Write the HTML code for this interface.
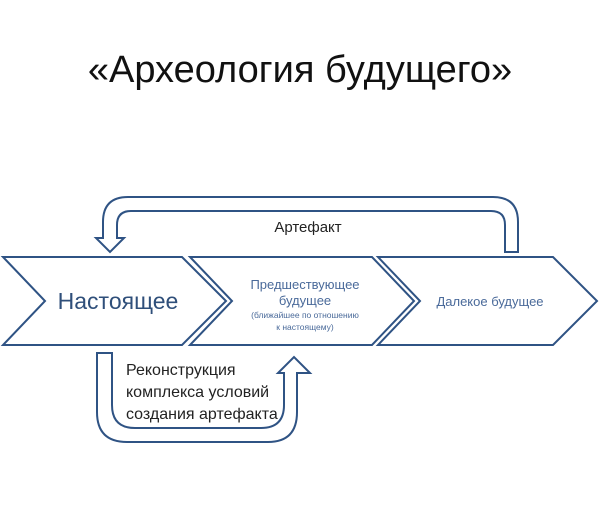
<!DOCTYPE html>
<html><head><meta charset="utf-8"><style>
body{margin:0;background:#fff;width:600px;height:516px;overflow:hidden}
</style></head><body>
<svg width="600" height="516" xmlns="http://www.w3.org/2000/svg" font-family="Liberation Sans, DejaVu Sans, sans-serif">
<text x="300" y="82" text-anchor="middle" font-size="38" fill="#111">«Археология будущего»</text>
<g fill="#fff" stroke="#2f5384" stroke-width="2" stroke-linejoin="miter">
<path d="M518,252 L518,222 Q518,197 493,197 L128,197 Q103,197 103,222 L103,238 L96,238 L110,252 L124,238 L117,238 L117,225 Q117,211 131,211 L491,211 Q505,211 505,225 L505,252 Z"/>
<path d="M97,353 L97,412 Q97,442 127,442 L268,442 Q297,442 297,412 L297,373 L310,373 L294,357 L278,373 L284,373 L284,405 Q284,428 261,428 L135,428 Q112,428 112,405 L112,353 Z"/>
<path d="M3,257 L182,257 L226,301 L182,345 L3,345 L45,301 Z"/>
<path d="M190,257 L372,257 L414,301 L372,345 L190,345 L232,301 Z"/>
<path d="M378,257 L553,257 L597,301 L553,345 L378,345 L420,301 Z"/>
</g>
<text x="308" y="232" text-anchor="middle" font-size="15" fill="#222">Артефакт</text>
<text x="118" y="309" text-anchor="middle" font-size="23" fill="#2f4f7a">Настоящее</text>
<text x="305" y="289" text-anchor="middle" font-size="13" fill="#4a6a9a">Предшествующее</text>
<text x="305" y="305" text-anchor="middle" font-size="13" fill="#4a6a9a">будущее</text>
<text x="305" y="318" text-anchor="middle" font-size="8.5" fill="#4a6a9a">(ближайшее по отношению</text>
<text x="305" y="330" text-anchor="middle" font-size="8.5" fill="#4a6a9a">к настоящему)</text>
<text x="490" y="306" text-anchor="middle" font-size="13" fill="#4a6a9a">Далекое будущее</text>
<text x="126" y="375" font-size="16" fill="#222">Реконструкция</text>
<text x="126" y="397" font-size="16" fill="#222">комплекса условий</text>
<text x="126" y="419" font-size="16" fill="#222">создания артефакта</text>
</svg>
</body></html>
